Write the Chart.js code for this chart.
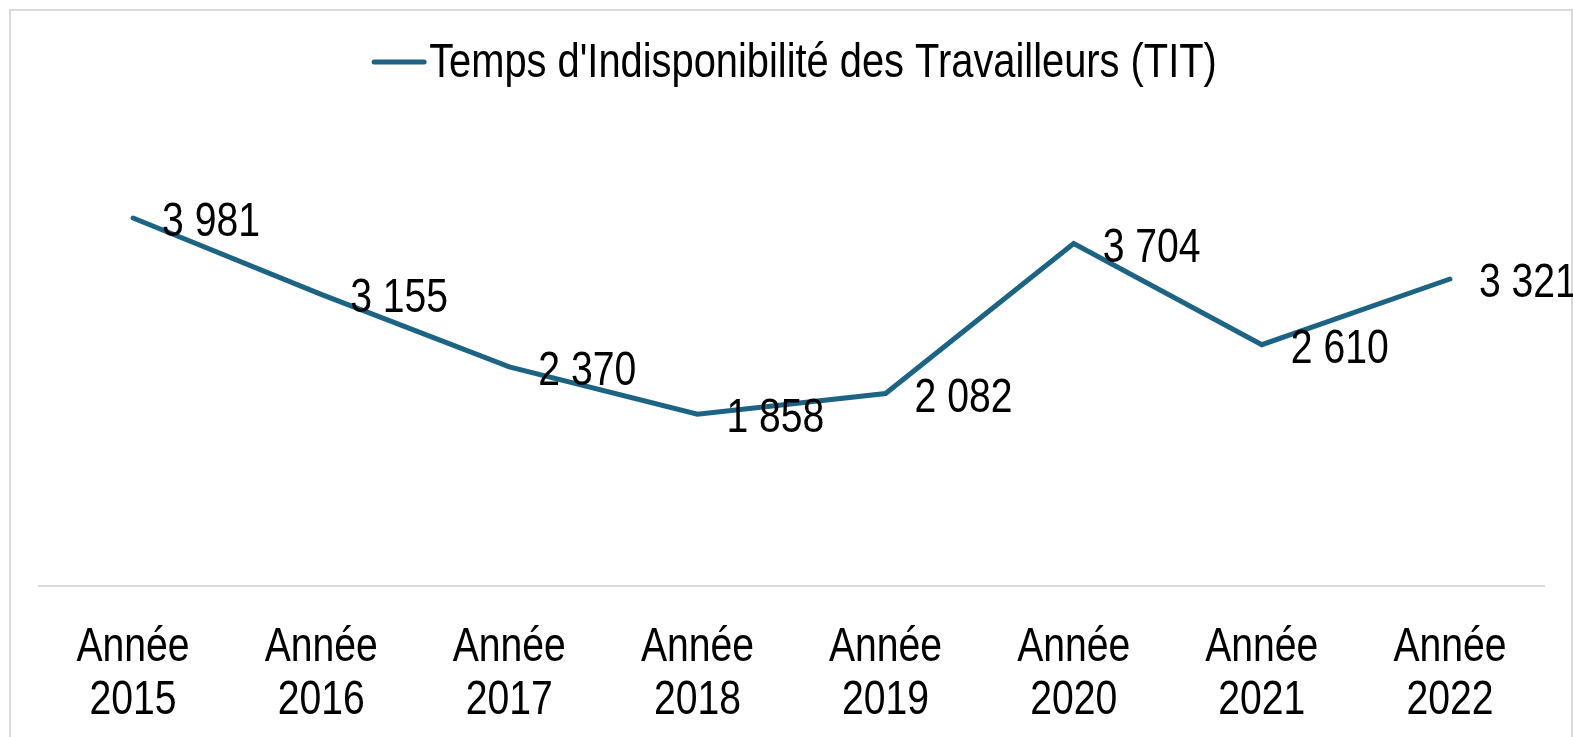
<!DOCTYPE html>
<html>
<head>
<meta charset="utf-8">
<script src="https://cdn.jsdelivr.net/npm/chart.js@4/dist/chart.umd.min.js"></script>
<style>
  html, body { margin: 0; padding: 0; background: #fff; overflow: hidden; }
  #frame {
    position: absolute; left: 9px; top: 9px; width: 1564px; height: 760px;
    border: 2px solid #d9d9d9; box-sizing: border-box;
  }
  #wrap { position: absolute; left: 0; top: 0; width: 1573px; height: 737px; }
</style>
</head>
<body>
<div id="frame"></div>
<div id="wrap"><canvas id="chart"></canvas></div>
<script>
const years = ["2015", "2016", "2017", "2018", "2019", "2020", "2021", "2022"];
const titValues = [3981, 3155, 2370, 1858, 2082, 3704, 2610, 3321];
const seriesLabel = "Temps d'Indisponibilité des Travailleurs (TIT)";

const lineColor = "#1d6384";
const fontFamily = "'Liberation Sans', Arial, sans-serif";
const fontSize = 48;
const narrow = 0.815; // squeeze to look like Arial Narrow

const fmt = (v) => String(v).replace(/\B(?=(\d{3})+(?!\d))/g, " ");

// draw condensed text with its left / centre at x
function narrowText(ctx, text, x, y, align, squeeze = narrow) {
  const w = ctx.measureText(text).width * squeeze;
  const left = align === "center" ? x - w / 2 : x;
  ctx.save();
  ctx.translate(left, y);
  ctx.scale(squeeze, 1);
  ctx.textAlign = "left";
  ctx.fillText(text, 0, 0);
  ctx.restore();
  return w;
}

// legend: short line then text, centred at the top
const legendPlugin = {
  id: "topLegend",
  afterDraw(chart) {
    const ctx = chart.ctx;
    ctx.save();
    ctx.font = `${fontSize}px ${fontFamily}`;
    const squeeze = 0.83;
    const textW = ctx.measureText(seriesLabel).width * squeeze;
    const lineW = 56, gap = 2;
    const x0 = 794 - (lineW + gap + textW) / 2;
    const y = 62;
    ctx.strokeStyle = lineColor;
    ctx.lineWidth = 5;
    ctx.lineCap = "round";
    ctx.beginPath();
    ctx.moveTo(x0 + 3, y);
    ctx.lineTo(x0 + lineW - 3, y);
    ctx.stroke();
    ctx.fillStyle = "#000";
    ctx.textBaseline = "alphabetic";
    narrowText(ctx, seriesLabel, x0 + lineW + gap, 77, "left", squeeze);
    ctx.restore();
  },
};

// category labels below the axis, two lines each
const tickPlugin = {
  id: "yearTicks",
  afterDraw(chart) {
    const ctx = chart.ctx;
    const xs = chart.scales.x;
    const base = chart.chartArea.bottom;
    ctx.save();
    ctx.font = `${fontSize}px ${fontFamily}`;
    ctx.fillStyle = "#000";
    ctx.textBaseline = "alphabetic";
    chart.data.labels.forEach((lab, i) => {
      const x = xs.getPixelForTick(i);
      narrowText(ctx, lab[0], x, base + 75, "center");
      narrowText(ctx, lab[1], x, base + 128, "center");
    });
    ctx.restore();
  },
};

// data labels to the right of each point
const labelPlugin = {
  id: "pointLabels",
  afterDatasetsDraw(chart) {
    const ctx = chart.ctx;
    const meta = chart.getDatasetMeta(0);
    ctx.save();
    ctx.font = `${fontSize}px ${fontFamily}`;
    ctx.fillStyle = "#000";
    ctx.textBaseline = "alphabetic";
    meta.data.forEach((pt, i) => {
      narrowText(ctx, fmt(titValues[i]), pt.x + 29, pt.y + 18, "left");
    });
    ctx.restore();
  },
};

new Chart(document.getElementById("chart"), {
  type: "line",
  data: {
    labels: years.map((y) => ["Année", y]),
    datasets: [{
      label: seriesLabel,
      data: titValues,
      borderColor: lineColor,
      borderWidth: 5,
      borderCapStyle: "round",
      borderJoinStyle: "miter",
      pointRadius: 0,
      tension: 0,
      fill: false,
    }],
  },
  options: {
    responsive: true,
    maintainAspectRatio: false,
    animation: false,
    layout: { padding: { left: 39, right: 29, top: 170, bottom: 151 } },
    plugins: {
      legend: { display: false },
      tooltip: { enabled: false },
    },
    scales: {
      x: {
        offset: true,
        grid: { display: false, drawTicks: false },
        border: { display: true, color: "#d9d9d9", width: 2 },
        ticks: { display: false },
      },
      y: {
        display: false,
        min: 0,
        max: 4500,
      },
    },
  },
  plugins: [legendPlugin, tickPlugin, labelPlugin],
});
</script>
</body>
</html>
